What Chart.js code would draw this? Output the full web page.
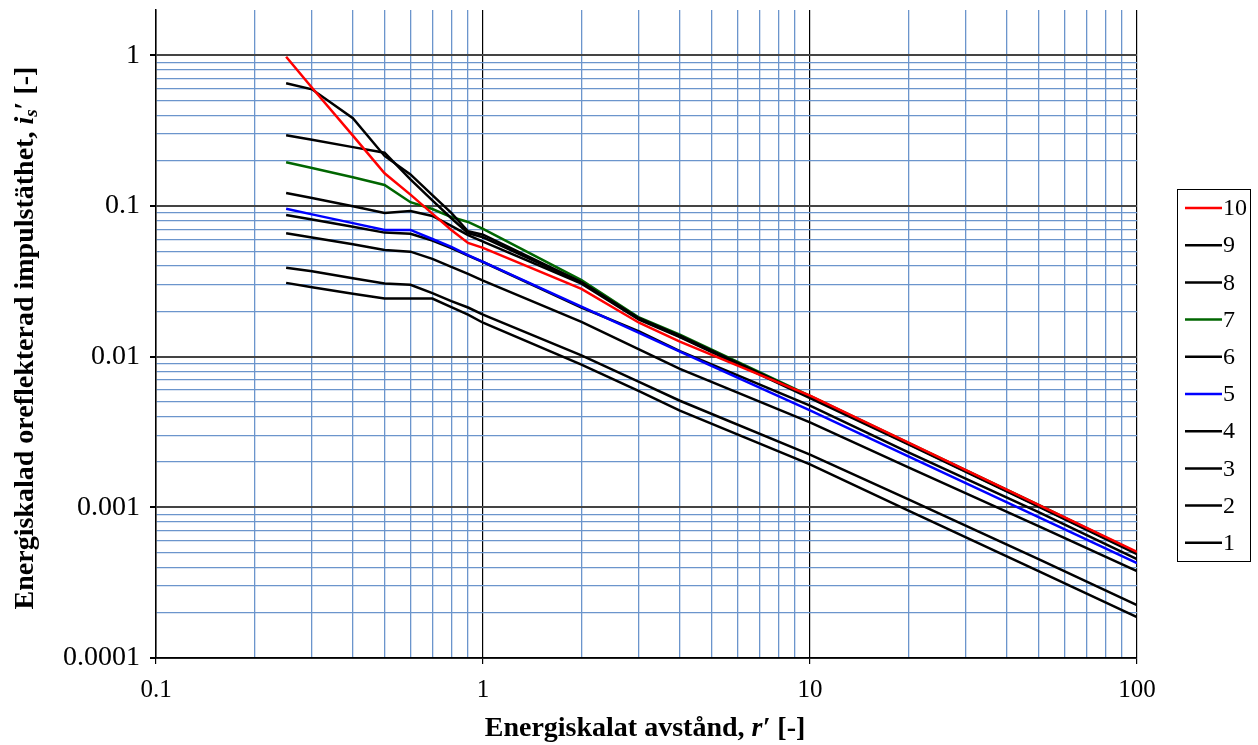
<!DOCTYPE html>
<html>
<head>
<meta charset="utf-8">
<script src="https://cdn.jsdelivr.net/npm/chart.js@4.4.1/dist/chart.umd.min.js"></script>
<style>
  html, body { margin: 0; padding: 0; background: #fff; }
  #wrap { width: 1258px; height: 745px; position: relative; }
</style>
</head>
<body>
<div id="wrap"><canvas id="chart"></canvas></div>
<script>
// energy-scaled distance r' (x values shared by every curve)
const rValues = [0.25, 0.3, 0.4, 0.5, 0.6, 0.7, 0.8, 0.9, 1, 2, 3, 4, 10, 20, 50, 100];

// energy-scaled unreflected impulse density i_s' per curve
const curve10 = [0.98, 0.609, 0.293, 0.165, 0.119, 0.089, 0.0693, 0.0569, 0.0527, 0.0282, 0.0168, 0.0126, 0.00552, 0.00269, 0.00104, 0.000506];
const curve9 = [0.652, 0.595, 0.383, 0.215, 0.162, 0.118, 0.090, 0.068, 0.0645, 0.0313, 0.0180, 0.0138, 0.0054, 0.00266, 0.00103, 0.000497];
const curve8 = [0.295, 0.275, 0.246, 0.226, 0.150, 0.109, 0.083, 0.066, 0.062, 0.0310, 0.0178, 0.0136, 0.0054, 0.00264, 0.00102, 0.000495];
const curve7 = [0.195, 0.179, 0.155, 0.138, 0.106, 0.0955, 0.0845, 0.0784, 0.0705, 0.0322, 0.0182, 0.0140, 0.0055, 0.00268, 0.00104, 0.000500];
const curve6 = [0.122, 0.113, 0.0995, 0.090, 0.0927, 0.0859, 0.0738, 0.064, 0.058, 0.0305, 0.0176, 0.0135, 0.0053, 0.00262, 0.00101, 0.000490];
const curve5 = [0.096, 0.088, 0.077, 0.0694, 0.0694, 0.0604, 0.0535, 0.0473, 0.0426, 0.0215, 0.0144, 0.0108, 0.0044, 0.00218, 0.00086, 0.000426];
const curve4 = [0.0872, 0.0814, 0.0728, 0.0666, 0.0654, 0.059, 0.0525, 0.0468, 0.0425, 0.0212, 0.0147, 0.0109, 0.00474, 0.00232, 0.00093, 0.000453];
const curve3 = [0.066, 0.0618, 0.0557, 0.0511, 0.0498, 0.0446, 0.0395, 0.0355, 0.032, 0.0170, 0.0112, 0.0083, 0.00366, 0.00184, 0.00075, 0.000377];
const curve2 = [0.0389, 0.0369, 0.0332, 0.0306, 0.030, 0.0264, 0.0234, 0.0212, 0.019, 0.0102, 0.0068, 0.0051, 0.00224, 0.00113, 0.000453, 0.000224];
const curve1 = [0.0309, 0.0289, 0.0262, 0.0243, 0.0243, 0.0243, 0.0213, 0.019, 0.0168, 0.00885, 0.0059, 0.00439, 0.00193, 0.00095, 0.000377, 0.000187];

// legend order, top to bottom (first one is drawn on top)
const seriesNames = ["10", "9", "8", "7", "6", "5", "4", "3", "2", "1"];
const seriesValues = [curve10, curve9, curve8, curve7, curve6, curve5, curve4, curve3, curve2, curve1];
const seriesColors = ["#ff0000", "#000000", "#000000", "#006600", "#000000", "#0000ff", "#000000", "#000000", "#000000", "#000000"];

const serif = "'Liberation Serif', 'Times New Roman', serif";
const minorColor = "#6b95cc";
const none = "rgba(0,0,0,0)";

function isDecade(v) {
  const l = Math.log10(v);
  return Math.abs(l - Math.round(l)) < 1e-6;
}
// 1..9 times a power of ten (log scale also makes 1.5, 15 ... which the original lacks)
function isWholeStep(v) {
  const m = v / Math.pow(10, Math.floor(Math.log10(v) + 1e-9));
  return Math.abs(m - Math.round(m)) < 1e-6;
}
function decadeLabel(v) {
  if (!isDecade(v)) return "";
  const e = Math.round(Math.log10(v));
  return e >= 0 ? String(Math.round(v)) : v.toFixed(-e);
}

// text made of pieces with their own font and baseline shift
function drawRich(ctx, parts, cx, cy) {
  let total = 0;
  parts.forEach(p => { ctx.font = p.f; total += ctx.measureText(p.t).width; });
  let x = cx - total / 2;
  ctx.fillStyle = "#000";
  ctx.textBaseline = "middle";
  ctx.textAlign = "left";
  parts.forEach(p => {
    ctx.font = p.f;
    ctx.fillText(p.t, x, cy + (p.dy || 0));
    x += ctx.measureText(p.t).width;
  });
}

const bold = "bold 28px " + serif;
const boldItalic = "italic bold 28px " + serif;
const xTitle = [
  { t: "Energiskalat avstånd, ", f: bold },
  { t: "r′", f: boldItalic },
  { t: " [-]", f: bold },
];
const yTitle = [
  { t: "Energiskalad oreflekterad impulstäthet, ", f: bold },
  { t: "i", f: boldItalic },
  { t: "s", f: "italic bold 19px " + serif, dy: 6 },
  { t: "′ [-]", f: bold },
];

const titlesAndLegend = {
  id: "titlesAndLegend",
  afterDraw(chart) {
    const ctx = chart.ctx;
    ctx.save();
    drawRich(ctx, xTitle, 645, 729);
    ctx.translate(26, 338);
    ctx.rotate(-Math.PI / 2);
    drawRich(ctx, yTitle, 0, 0);
    ctx.restore();

    // legend box
    ctx.save();
    ctx.strokeStyle = "#000";
    ctx.lineWidth = 1;
    ctx.strokeRect(1177.5, 189.5, 73, 372);
    ctx.font = "24px " + serif;
    ctx.textBaseline = "middle";
    ctx.textAlign = "left";
    chart.data.datasets.forEach((ds, i) => {
      const y = 208 + i * 37.2;
      ctx.strokeStyle = ds.borderColor;
      ctx.lineWidth = 2.5;
      ctx.beginPath();
      ctx.moveTo(1185, y);
      ctx.lineTo(1222, y);
      ctx.stroke();
      ctx.fillStyle = "#000";
      ctx.fillText(ds.label, 1223, y + 1);
    });
    ctx.restore();
  }
};

const datasets = seriesNames.map((name, i) => ({
  label: name,
  data: rValues.map((r, j) => ({ x: r, y: seriesValues[i][j] })),
  borderColor: seriesColors[i],
  backgroundColor: seriesColors[i],
  borderWidth: 2.5,
  pointRadius: 0,
  tension: 0,
  fill: false,
}));

new Chart(document.getElementById("chart"), {
  type: "line",
  data: { datasets: datasets },
  plugins: [titlesAndLegend],
  options: {
    responsive: true,
    maintainAspectRatio: false,
    devicePixelRatio: 1,
    animation: false,
    layout: { padding: { top: 10, right: 121, left: 0, bottom: 0 } },
    plugins: {
      legend: { display: false },
      tooltip: { enabled: false },
    },
    scales: {
      x: {
        type: "logarithmic",
        min: 0.1,
        max: 100,
        afterFit: s => { s.height = 87; },
        border: { color: "#000", width: 1.5 },
        grid: {
          color: c => {
            const v = c.tick.value;
            if (!isWholeStep(v)) return none;
            return isDecade(v) ? "#000000" : minorColor;
          },
          lineWidth: c => isDecade(c.tick.value) ? 1.2 : 1.3,
          tickColor: c => isDecade(c.tick.value) ? "#000" : none,
          tickLength: 6,
        },
        ticks: {
          autoSkip: false,
          maxRotation: 0,
          padding: 11,
          color: "#000",
          font: { family: serif, size: 25 },
          callback: v => decadeLabel(v),
        },
      },
      y: {
        type: "logarithmic",
        min: 0.0001,
        max: 2,
        afterFit: s => { s.width = 156; s.paddingTop = 0; },
        border: { color: "#000", width: 1.5 },
        grid: {
          color: c => {
            const v = c.tick.value;
            if (v > 1.05 || !isWholeStep(v)) return none;
            return isDecade(v) ? "#444444" : minorColor;
          },
          lineWidth: c => isDecade(c.tick.value) ? 2 : 1.3,
          tickColor: c => isDecade(c.tick.value) && c.tick.value < 1.05 ? "#000" : none,
          tickLength: 6,
        },
        ticks: {
          autoSkip: false,
          padding: 10,
          color: "#000",
          font: { family: serif, size: 28 },
          callback: v => decadeLabel(v),
        },
      },
    },
  },
});
</script>
</body>
</html>
